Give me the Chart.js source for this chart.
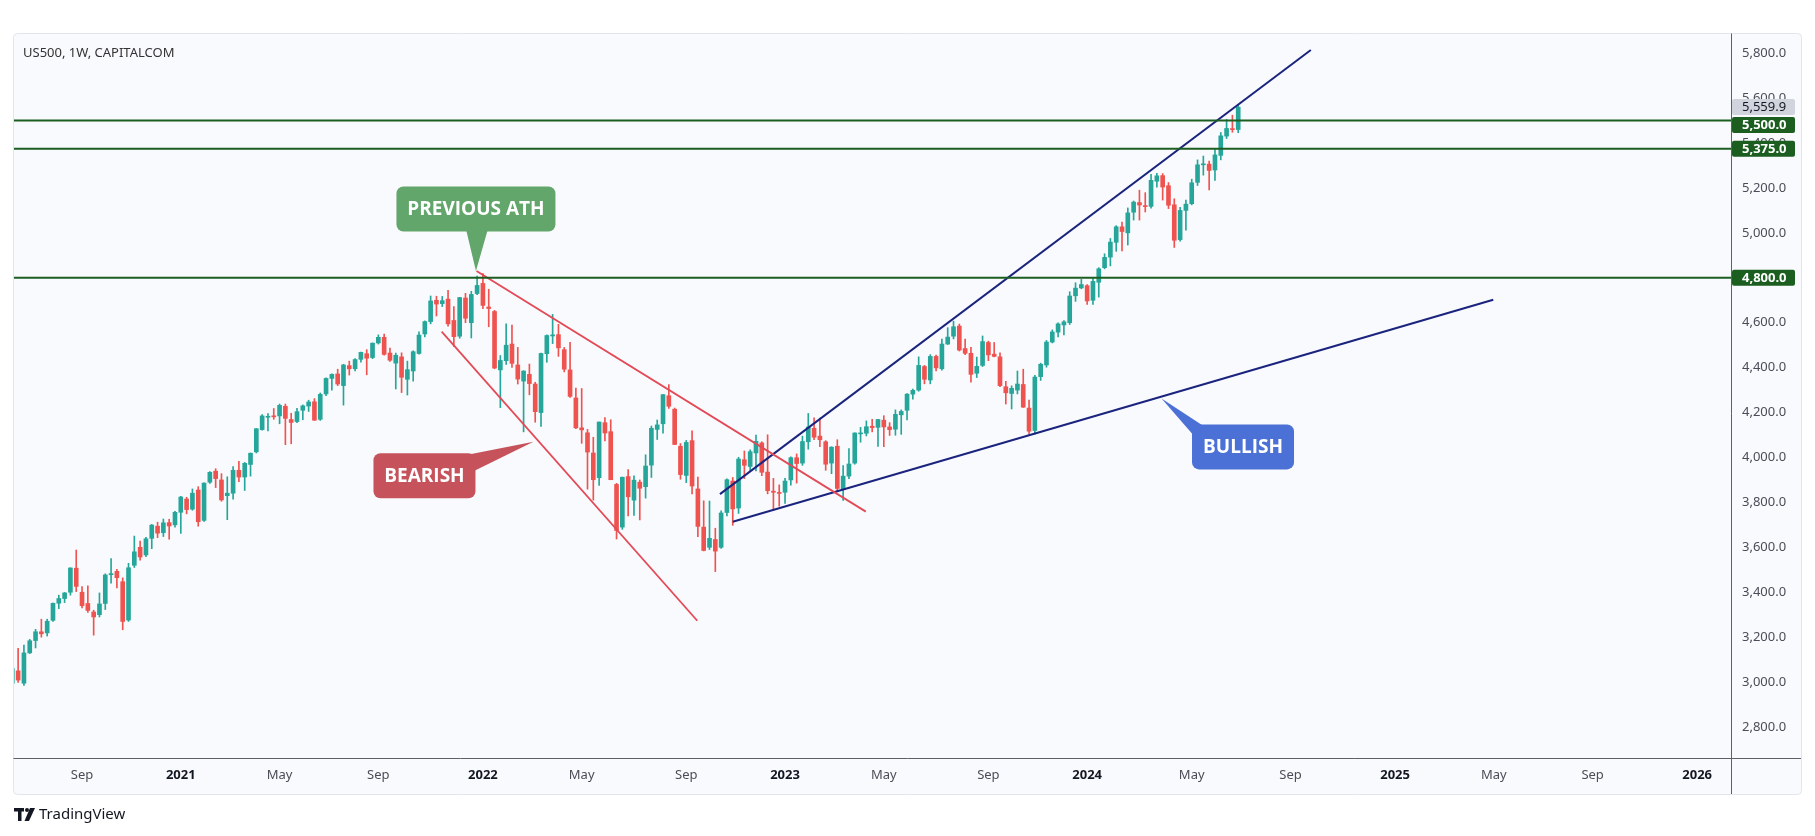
<!DOCTYPE html>
<html>
<head>
<meta charset="utf-8">
<title>US500, 1W, CAPITALCOM</title>
<script src="https://cdn.jsdelivr.net/npm/chart.js@4.4.1/dist/chart.umd.min.js"></script>
<style>
  html, body { margin: 0; padding: 0; background: #ffffff; }
  canvas { display: block; }
</style>
</head>
<body>
<canvas id="chart" width="1815" height="836"></canvas>
<script>
// weekly candles, week 0 = mid Jun 2020, last = early Jul 2024
const open = [
  2995,3050,2995,3130,3185,3224,3219,3275,3351,3372,
  3400,3507,3400,3350,3312,3300,3350,3478,3493,3447,
  3276,3520,3600,3566,3640,3694,3665,3710,3700,3756,
  3815,3770,3855,3720,3890,3939,3900,3830,3841,3943,
  3913,3969,4025,4124,4179,4185,4185,4228,4169,4160,
  4210,4229,4248,4170,4283,4352,4372,4320,4409,4395,
  4437,4462,4445,4510,4535,4465,4420,4448,4348,4385,
  4463,4550,4605,4700,4685,4705,4610,4540,4710,4600,
  4730,4775,4670,4650,4390,4431,4505,4412,4340,4370,
  4327,4200,4462,4541,4547,4480,4390,4265,4132,4110,
  4020,3910,4155,4115,3880,3690,3915,3810,3890,3870,
  3966,4125,4150,4275,4215,4050,3920,4075,3860,3690,
  3600,3635,3600,3755,3895,3775,3990,3960,4020,4065,
  3935,3850,3843,3845,3900,3999,3975,4070,4130,4095,
  4070,3975,4050,3858,3917,3975,4105,4108,4139,4134,
  4166,4136,4126,4190,4210,4282,4300,4405,4345,4450,
  4395,4505,4540,4585,4485,4464,4375,4410,4512,4460,
  4448,4315,4285,4300,4325,4220,4120,4360,4412,4514,
  4558,4590,4600,4720,4755,4765,4700,4780,4845,4892,
  4958,5027,5000,5092,5135,5120,5118,5230,5255,5210,
  5125,4970,5100,5130,5225,5303,5306,5280,5345,5431,
  5462,5460
];
const high = [
  3155,3150,3165,3190,3235,3280,3280,3352,3387,3399,
  3509,3588,3425,3429,3320,3397,3482,3550,3502,3464,
  3529,3650,3628,3644,3702,3712,3726,3725,3760,3827,
  3823,3860,3870,3887,3937,3950,3928,3914,3960,3983,
  3978,4020,4129,4191,4195,4218,4238,4238,4197,4219,
  4234,4255,4262,4287,4355,4372,4393,4415,4429,4440,
  4469,4480,4510,4546,4549,4487,4465,4466,4429,4475,
  4559,4608,4719,4718,4717,4744,4672,4713,4731,4740,
  4808,4819,4749,4655,4454,4595,4590,4490,4386,4416,
  4335,4465,4546,4637,4593,4490,4513,4309,4307,4125,
  4090,4158,4178,4168,3885,3913,3946,3918,3900,4012,
  4140,4167,4280,4325,4220,4062,4076,4119,3913,3807,
  3806,3685,3762,3905,3911,4001,4029,4034,4100,4070,
  4101,3907,3878,3907,4003,4016,4095,4196,4176,4175,
  4075,4048,4079,3964,4040,4110,4134,4163,4170,4170,
  4186,4155,4212,4212,4285,4305,4448,4410,4458,4456,
  4527,4578,4607,4594,4527,4490,4447,4541,4518,4512,
  4466,4339,4319,4385,4393,4256,4366,4420,4521,4568,
  4600,4609,4738,4778,4793,4770,4802,4845,4907,4975,
  5032,5048,5111,5142,5190,5179,5261,5265,5264,5224,
  5152,5114,5146,5239,5325,5342,5320,5375,5447,5505,
  5524,5570
];
const low = [
  2966,2999,2985,3127,3152,3200,3205,3270,3327,3354,
  3387,3403,3330,3310,3209,3290,3323,3440,3419,3233,
  3270,3510,3543,3558,3594,3643,3648,3636,3690,3662,
  3749,3765,3694,3715,3885,3866,3805,3723,3814,3892,
  3853,3917,4020,4122,4118,4170,4150,4057,4061,4155,
  4168,4205,4165,4165,4275,4300,4320,4233,4367,4385,
  4424,4368,4440,4505,4456,4428,4305,4289,4278,4340,
  4460,4537,4595,4630,4672,4585,4495,4531,4600,4532,
  4725,4662,4582,4395,4222,4414,4401,4327,4114,4279,
  4157,4138,4424,4507,4450,4381,4267,4128,4063,3859,
  3810,3876,4074,3901,3637,3680,3740,3742,3722,3819,
  3911,4080,4108,4218,4057,3903,3888,3838,3647,3584,
  3590,3492,3595,3740,3698,3751,3906,3938,3940,3919,
  3838,3764,3783,3795,3877,3886,3965,4037,4079,4048,
  3943,3928,3847,3809,3906,3970,4068,4096,4114,4049,
  4048,4098,4099,4103,4167,4260,4295,4328,4328,4385,
  4389,4503,4528,4474,4458,4335,4356,4405,4431,4448,
  4315,4238,4216,4283,4223,4104,4104,4343,4402,4510,
  4537,4546,4592,4695,4751,4682,4682,4714,4840,4853,
  4918,4920,4946,5057,5057,5093,5110,5203,5146,5108,
  4935,4963,5012,5125,5211,5257,5191,5234,5325,5420,
  5448,5446
];
const close = [
  3060,3009,3130,3184,3224,3215,3271,3351,3372,3397,
  3508,3426,3340,3319,3290,3348,3477,3483,3465,3270,
  3509,3580,3557,3638,3699,3663,3709,3695,3756,3824,
  3768,3841,3714,3886,3934,3906,3811,3841,3943,3913,
  3974,4019,4128,4185,4180,4181,4232,4174,4156,4204,
  4230,4247,4166,4281,4352,4370,4327,4412,4395,4436,
  4468,4442,4509,4535,4459,4433,4455,4357,4391,4471,
  4545,4605,4697,4683,4698,4595,4538,4712,4620,4726,
  4766,4677,4663,4398,4432,4500,4419,4349,4385,4329,
  4204,4463,4543,4546,4488,4393,4272,4132,4123,4024,
  3901,4158,4109,3901,3675,3912,3825,3899,3863,3962,
  4130,4145,4280,4228,4058,3924,4067,3873,3693,3586,
  3640,3583,3753,3901,3771,3993,3965,4026,4072,3934,
  3852,3845,3840,3895,3999,3973,4071,4136,4090,4079,
  3970,4046,3862,3917,3971,4109,4105,4137,4133,4169,
  4136,4124,4192,4205,4282,4299,4410,4348,4450,4399,
  4505,4536,4582,4478,4464,4370,4406,4516,4457,4450,
  4320,4288,4308,4327,4224,4117,4358,4415,4514,4559,
  4595,4604,4719,4754,4770,4697,4784,4840,4891,4959,
  5027,5006,5089,5137,5124,5117,5234,5254,5204,5123,
  4967,5100,5128,5223,5303,5305,5278,5347,5432,5465,
  5460,5559.9
];

const tickWeeks = [12, 29, 46, 63, 81, 98, 116, 133, 150, 168, 185, 203, 220, 238, 255, 272, 290];
const tickLabels = ['Sep', '2021', 'May', 'Sep', '2022', 'May', 'Sep', '2023', 'May', 'Sep', '2024', 'May', 'Sep', '2025', 'May', 'Sep', '2026'];
const priceTicks = [2800, 3000, 3200, 3400, 3600, 3800, 4000, 4200, 4400, 4600, 4800, 5000, 5200, 5400, 5600, 5800];

const levels = [5500, 5375, 4800];
const lastPrice = 5559.9;

// trend lines as [week, price] end points
const bearUpper = [[79.9, 4830], [146.9, 3759]];
const bearLower = [[73.9, 4560], [117.9, 3273]];
const bullUpper = [[121.8, 3837], [223.5, 5814]];
const bullLower = [[124.0, 3714], [254.9, 4702]];

const calloutText = ['PREVIOUS ATH', 'BEARISH', 'BULLISH'];
const calloutTip = [[79.8, 4830], [89.7, 4070], [197.8, 4263]];

const X_MIN = 0.29, X_MAX = 295.82;
const Y_MIN = 2662, Y_MAX = 5881;

const UP = '#26a69a', DOWN = '#ef5350';
const candleColor = close.map((c, i) => (c >= open[i] ? UP : DOWN));

function seg(points) {
  return points.map(([x, y]) => ({ x, y }));
}

function lineSet(points, color, width) {
  return {
    type: 'line',
    data: seg(points),
    borderColor: color,
    borderWidth: width,
    pointRadius: 0,
    fill: false,
    tension: 0,
    order: 0,
  };
}

const fmt = (v) => v.toLocaleString('en-US', { minimumFractionDigits: 1, maximumFractionDigits: 1 });
const isYear = (v) => /^\d{4}$/.test(tickLabels[tickWeeks.indexOf(v)] || '');

// box style for each callout: offset of box centre from tip, size, tail base (relative to box centre)
const calloutStyle = [
  { color: '#62a66b', dx: 0, dy: -62, w: 159, h: 45, base: [[-10, 20], [12, 20]] },
  { color: '#c6535c', dx: -109, dy: 34, w: 102, h: 45, base: [[38, -20], [48, -4]] },
  { color: '#4b70d6', dx: 81.5, dy: 48.5, w: 102, h: 45, base: [[-38, -20], [-48, -10]] },
];

const decor = {
  id: 'decor',
  beforeDraw(chart) {
    const c = chart.ctx;
    c.save();
    c.fillStyle = '#ffffff';
    c.fillRect(0, 0, chart.width, chart.height);
    c.beginPath();
    c.roundRect(13.5, 33.5, 1788, 761, 4);
    c.fillStyle = '#f9fafd';
    c.fill();
    c.strokeStyle = '#e3e5ea';
    c.lineWidth = 1;
    c.stroke();
    c.restore();
  },
  afterDatasetsDraw(chart) {
    const c = chart.ctx;
    const { x, y } = chart.scales;
    c.save();
    calloutText.forEach((text, k) => {
      const s = calloutStyle[k];
      const tx = x.getPixelForValue(calloutTip[k][0]);
      const ty = y.getPixelForValue(calloutTip[k][1]);
      const cx = tx + s.dx, cy = ty + s.dy;
      c.fillStyle = s.color;
      c.beginPath();
      c.roundRect(cx - s.w / 2, cy - s.h / 2, s.w, s.h, 7);
      c.fill();
      c.beginPath();
      c.moveTo(cx + s.base[0][0], cy + s.base[0][1]);
      c.lineTo(tx, ty);
      c.lineTo(cx + s.base[1][0], cy + s.base[1][1]);
      c.closePath();
      c.fill();
      c.fillStyle = '#ffffff';
      c.font = 'bold 19px "Open Sans"';
      c.textAlign = 'center';
      c.textBaseline = 'middle';
      c.fillText(text, cx, cy + 1);
    });
    c.restore();
  },
  afterDraw(chart) {
    const c = chart.ctx;
    const { y } = chart.scales;
    const area = chart.chartArea;
    c.save();
    // axis borders
    c.strokeStyle = '#5d606b';
    c.lineWidth = 1;
    c.beginPath();
    c.moveTo(13.5, Math.round(area.bottom) + 0.5);
    c.lineTo(1801, Math.round(area.bottom) + 0.5);
    c.moveTo(Math.round(area.right) + 0.5, 33.5);
    c.lineTo(Math.round(area.right) + 0.5, 794);
    c.stroke();

    // price labels on the axis
    const items = [{ v: lastPrice, bg: '#d1d4dc', fg: '#131722', w: 'normal' }]
      .concat(levels.map((v) => ({ v, bg: '#1b5e20', fg: '#ffffff', w: 'bold' })));
    items.forEach((it) => { it.py = y.getPixelForValue(it.v); });
    items.sort((a, b) => a.py - b.py);
    for (let k = 1; k < items.length; k++) {
      if (items[k].py < items[k - 1].py + 18) items[k].py = items[k - 1].py + 18;
    }
    items.forEach((it) => {
      c.fillStyle = it.bg;
      c.beginPath();
      c.roundRect(area.right + 1, it.py - 8, 63, 16, 2);
      c.fill();
      c.fillStyle = it.fg;
      c.font = it.w + ' 13px "Noto Sans"';
      c.textAlign = 'left';
      c.textBaseline = 'middle';
      c.fillText(fmt(it.v), area.right + 11, it.py + 0.5);
    });

    // title
    c.fillStyle = '#333333';
    c.font = '13px "Noto Sans"';
    c.textAlign = 'left';
    c.textBaseline = 'middle';
    c.fillText('US500, 1W, CAPITALCOM', 23, 53);

    // logo
    c.fillStyle = '#131722';
    c.fillRect(14, 808, 10, 3.5);
    c.fillRect(18, 808, 3.5, 13);
    c.beginPath();
    c.arc(27, 810, 2, 0, Math.PI * 2);
    c.fill();
    c.beginPath();
    c.moveTo(30, 808);
    c.lineTo(35, 808);
    c.lineTo(29, 821);
    c.lineTo(24.5, 821);
    c.closePath();
    c.fill();
    c.font = '15px "Noto Sans"';
    c.fillText('TradingView', 39, 814.5);
    c.restore();
  },
};

new Chart(document.getElementById('chart'), {
  type: 'bar',
  data: {
    datasets: [
      ...levels.map((v) => lineSet([[X_MIN, v], [X_MAX, v]], '#1b5e20', 2)),
      lineSet(bearUpper, '#e34a57', 1.8),
      lineSet(bearLower, '#e34a57', 1.8),
      lineSet(bullUpper, '#1a237e', 2),
      lineSet(bullLower, '#1a237e', 2),
      {
        label: 'body',
        data: open.map((o, i) => ({ x: i, y: [o, close[i]] })),
        backgroundColor: candleColor,
        barThickness: 4,
        minBarLength: 1,
        grouped: false,
        order: 2,
      },
      {
        label: 'wick',
        data: low.map((l, i) => ({ x: i, y: [l, high[i]] })),
        backgroundColor: candleColor,
        barThickness: 1,
        grouped: false,
        order: 3,
      },
    ],
  },
  options: {
    responsive: false,
    animation: false,
    devicePixelRatio: 1,
    layout: { padding: { left: 14, right: 14, top: 35, bottom: 42 } },
    plugins: { legend: { display: false }, tooltip: { enabled: false } },
    scales: {
      x: {
        type: 'linear',
        min: X_MIN,
        max: X_MAX,
        offset: false,
        grid: { display: false, drawTicks: false },
        border: { display: false },
        afterBuildTicks: (s) => { s.ticks = tickWeeks.map((v) => ({ value: v })); },
        afterFit: (s) => { s.height = 36; },
        ticks: {
          autoSkip: false,
          maxRotation: 0,
          padding: 9,
          callback: (v) => tickLabels[tickWeeks.indexOf(v)],
          font: (ctx) => ({
            family: 'Noto Sans',
            size: 13,
            weight: ctx.tick && isYear(ctx.tick.value) ? 'bold' : 'normal',
          }),
          color: (ctx) => (ctx.tick && isYear(ctx.tick.value) ? '#131722' : '#4a4d57'),
        },
      },
      y: {
        type: 'linear',
        position: 'right',
        min: Y_MIN,
        max: Y_MAX,
        grid: { display: false, drawTicks: false },
        border: { display: false },
        afterBuildTicks: (s) => { s.ticks = priceTicks.map((v) => ({ value: v })); },
        afterFit: (s) => { s.width = 70; },
        ticks: {
          padding: 11,
          callback: (v) => fmt(v),
          font: { family: 'Noto Sans', size: 13 },
          color: '#4a4d57',
        },
      },
    },
  },
  plugins: [decor],
});
</script>
</body>
</html>
